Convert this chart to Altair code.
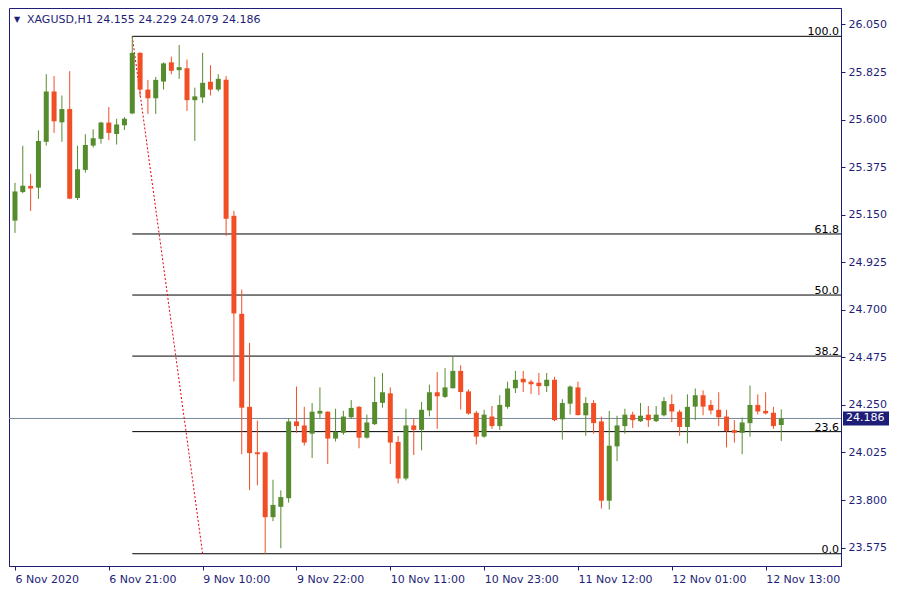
import altair as alt
import pandas as pd
import json

# ---------------- data ----------------
opens = [25.122, 25.257, 25.286, 25.278, 25.495, 25.733, 25.587, 25.650, 25.229, 25.362,
         25.477, 25.509, 25.586, 25.532, 25.573, 25.629, 25.916, 25.742, 25.701, 25.780,
         25.871, 25.834, 25.843, 25.692, 25.705, 25.779, 25.742, 25.788, 25.145, 24.681,
         24.241, 24.026, 24.026, 23.719, 23.768, 23.809, 24.172, 24.153, 24.114, 24.209,
         24.218, 24.091, 24.118, 24.192, 24.241, 24.095, 24.159, 24.260, 24.305, 24.075,
         23.902, 24.153, 24.132, 24.224, 24.310, 24.288, 24.329, 24.411, 24.314, 24.213,
         24.100, 24.195, 24.150, 24.241, 24.329, 24.374, 24.360, 24.355, 24.339, 24.369,
         24.182, 24.256, 24.333, 24.201, 24.259, 24.172, 23.797, 24.054, 24.150, 24.204,
         24.173, 24.204, 24.173, 24.201, 24.254, 24.218, 24.146, 24.242, 24.296, 24.250,
         24.227, 24.195, 24.131, 24.118, 24.164, 24.250, 24.222, 24.213, 24.155]
highs = [25.301, 25.476, 25.343, 25.549, 25.815, 25.806, 25.714, 25.829, 25.476, 25.531,
         25.554, 25.590, 25.659, 25.604, 25.612, 25.994, 25.918, 25.788, 25.802, 25.871,
         25.898, 25.953, 25.884, 25.751, 25.916, 25.857, 25.815, 25.806, 25.168, 24.796,
         24.544, 24.176, 24.030, 23.896, 23.846, 24.186, 24.337, 24.241, 24.259, 24.333,
         24.220, 24.232, 24.222, 24.273, 24.245, 24.204, 24.383, 24.401, 24.333, 24.103,
         24.232, 24.186, 24.264, 24.346, 24.406, 24.424, 24.479, 24.438, 24.323, 24.222,
         24.227, 24.245, 24.296, 24.360, 24.411, 24.411, 24.369, 24.401, 24.401, 24.383,
         24.277, 24.342, 24.360, 24.287, 24.273, 24.195, 24.222, 24.199, 24.232, 24.218,
         24.259, 24.245, 24.245, 24.287, 24.300, 24.227, 24.300, 24.328, 24.319, 24.273,
         24.310, 24.227, 24.178, 24.190, 24.342, 24.300, 24.310, 24.241, 24.229]
lows = [25.064, 25.252, 25.168, 25.225, 25.477, 25.537, 25.495, 25.224, 25.220, 25.349,
        25.468, 25.486, 25.503, 25.482, 25.551, 25.625, 25.707, 25.627, 25.627, 25.742,
        25.815, 25.793, 25.641, 25.499, 25.678, 25.714, 25.733, 25.050, 24.361, 24.017,
        23.847, 23.870, 23.546, 23.700, 23.572, 23.788, 24.118, 24.058, 23.999, 24.186,
        23.971, 24.077, 24.109, 24.186, 24.045, 24.091, 24.155, 24.237, 23.971, 23.879,
        23.893, 24.013, 24.035, 24.196, 24.137, 24.283, 24.328, 24.228, 24.204, 24.063,
        24.095, 24.137, 24.132, 24.232, 24.306, 24.311, 24.302, 24.297, 24.311, 24.173,
        24.086, 24.205, 24.200, 24.104, 24.114, 23.760, 23.755, 23.984, 24.114, 24.141,
        24.169, 24.146, 24.169, 24.196, 24.169, 24.104, 24.068, 24.178, 24.201, 24.205,
        24.150, 24.049, 24.072, 24.017, 24.100, 24.205, 24.205, 24.137, 24.079]
closes = [25.260, 25.287, 25.274, 25.499, 25.733, 25.592, 25.650, 25.226, 25.365, 25.480,
          25.512, 25.586, 25.537, 25.577, 25.604, 25.916, 25.742, 25.701, 25.788, 25.866,
          25.831, 25.848, 25.692, 25.710, 25.774, 25.742, 25.793, 25.131, 24.683, 24.237,
          24.022, 24.017, 23.719, 23.777, 23.814, 24.172, 24.150, 24.072, 24.218, 24.222,
          24.091, 24.123, 24.195, 24.236, 24.095, 24.167, 24.264, 24.310, 24.072, 23.902,
          24.153, 24.132, 24.227, 24.310, 24.291, 24.333, 24.411, 24.311, 24.209, 24.100,
          24.204, 24.150, 24.250, 24.328, 24.369, 24.357, 24.348, 24.339, 24.369, 24.178,
          24.259, 24.337, 24.202, 24.259, 24.164, 23.797, 24.057, 24.153, 24.204, 24.178,
          24.199, 24.178, 24.204, 24.268, 24.219, 24.146, 24.241, 24.296, 24.242, 24.224,
          24.192, 24.127, 24.118, 24.167, 24.250, 24.219, 24.210, 24.150, 24.186]

x_tick_index = [0, 12, 24, 36, 48, 60, 72, 84, 96]
x_tick_labels = ["6 Nov 2020", "6 Nov 21:00", "9 Nov 10:00", "9 Nov 22:00",
                 "10 Nov 11:00", "10 Nov 23:00", "11 Nov 12:00", "12 Nov 01:00",
                 "12 Nov 13:00"]
y_tick_values = [23.575, 23.800, 24.025, 24.250, 24.475, 24.700,
                 24.925, 25.150, 25.375, 25.600, 25.825, 26.050]

fib_levels = [0.0, 23.6, 38.2, 50.0, 61.8, 100.0]
fib_labels = ["0.0", "23.6", "38.2", "50.0", "61.8", "100.0"]
fib_high_index, fib_high_price = 15, 25.994
fib_low_index, fib_low_price = 24, 23.546

last_price = 24.186
last_price_label = "24.186"
title_text = "XAGUSD,H1  24.155 24.229 24.079 24.186"

# ---------------- styling ----------------
W, H = 832, 558
X_DOMAIN = [-0.125, 105]
Y_DOMAIN = [23.488, 26.128]
GREEN = "#568C2E"
RED = "#F24E26"
NAVY = "#1E1E78"
FONT = "DejaVu Sans"

candles = pd.DataFrame({
    "idx": list(range(len(opens))),
    "open": opens, "high": highs, "low": lows, "close": closes,
})
candles["dir"] = ["up" if c >= o else "down" for o, c in zip(opens, closes)]

fib = pd.DataFrame({
    "level": fib_levels,
    "label": fib_labels,
})
fib["price"] = fib_low_price + fib["level"] / 100.0 * (fib_high_price - fib_low_price)
fib["start"] = min(fib_high_index, fib_low_index)

trend = pd.DataFrame({"idx": [fib_high_index, fib_low_index],
                      "price": [fib_high_price, fib_low_price]})
last_df = pd.DataFrame({"price": [last_price], "label": [last_price_label]})

label_expr = json.dumps(x_tick_labels) + "[round(datum.value / 12)]"

x_scale = alt.Scale(domain=X_DOMAIN, nice=False, zero=False)
y_scale = alt.Scale(domain=Y_DOMAIN, nice=False, zero=False)
x_axis = alt.Axis(values=x_tick_index, labelExpr=label_expr, labelAlign="left",
                  labelBaseline="top", labelPadding=3, tickSize=4, tickColor=NAVY,
                  domainColor=NAVY, labelColor=NAVY, labelFont=FONT, labelFontSize=11,
                  labelFlush=False, labelOverlap=False, grid=False, title=None)
y_axis = alt.Axis(orient="right", values=y_tick_values, format=".3f", tickSize=4,
                  tickColor=NAVY, domainColor=NAVY, labelColor=NAVY, labelFont=FONT,
                  labelFontSize=11, labelPadding=3, grid=False, title=None,
                  labelOverlap=False, labelFlush=False)


def X(field):
    return alt.X(field, type="quantitative", scale=x_scale, axis=x_axis)


def Y(field):
    return alt.Y(field, type="quantitative", scale=y_scale, axis=y_axis)


color = alt.Color("dir:N", scale=alt.Scale(domain=["up", "down"], range=[GREEN, RED]),
                  legend=None)

base = alt.Chart(candles)

price_line = alt.Chart(last_df).mark_rule(color="#778899", strokeWidth=1).encode(
    y=Y("price"))

fib_lines = alt.Chart(fib).mark_rule(color="#000000", strokeWidth=1).encode(
    x=X("start"), x2=alt.value(W), y=Y("price"))

fib_text = alt.Chart(fib).mark_text(align="right", baseline="bottom", dy=1,
                                    font=FONT, fontSize=11, color="#000000").encode(
    x=alt.value(W - 2), y=Y("price"), text="label:N")

trend_line = alt.Chart(trend).mark_line(color="#E8000B", strokeWidth=1,
                                        strokeDash=[2, 2]).encode(
    x=X("idx"), y=Y("price"))

wicks = base.mark_rule(strokeWidth=1, clip=True).encode(
    x=X("idx"), y=Y("low"), y2="high", color=color)

bodies = base.mark_bar(size=5, clip=True).encode(
    x=X("idx"), y=Y("open"), y2="close", color=color)

price_box = alt.Chart(last_df).mark_rect(color=NAVY, yOffset=-7, y2Offset=7).encode(
    x=alt.value(W + 2), x2=alt.value(W + 48), y=Y("price"), y2="price")

price_text = alt.Chart(last_df).mark_text(align="left", baseline="middle", font=FONT,
                                          fontSize=11, color="white").encode(
    x=alt.value(W + 5), y=Y("price"), text="label:N")

tri = alt.Chart(last_df).mark_text(align="left", baseline="middle", font=FONT,
                                   fontSize=8, color=NAVY).encode(
    x=alt.value(5), y=alt.value(12), text=alt.value("▼"))

title = alt.Chart(last_df).mark_text(align="left", baseline="middle", font=FONT,
                                     fontSize=11, color=NAVY).encode(
    x=alt.value(18), y=alt.value(12), text=alt.value(title_text))

chart = alt.layer(
    price_line, fib_lines, fib_text, trend_line, wicks, bodies,
    price_box, price_text, tri, title
).properties(
    width=W, height=H, background="white",
    padding={"left": 0, "top": 0, "right": 2, "bottom": 2}
).configure_view(
    stroke=NAVY, strokeWidth=1
)

chart.save("out.html", embed_options={"renderer": "svg", "actions": False})
